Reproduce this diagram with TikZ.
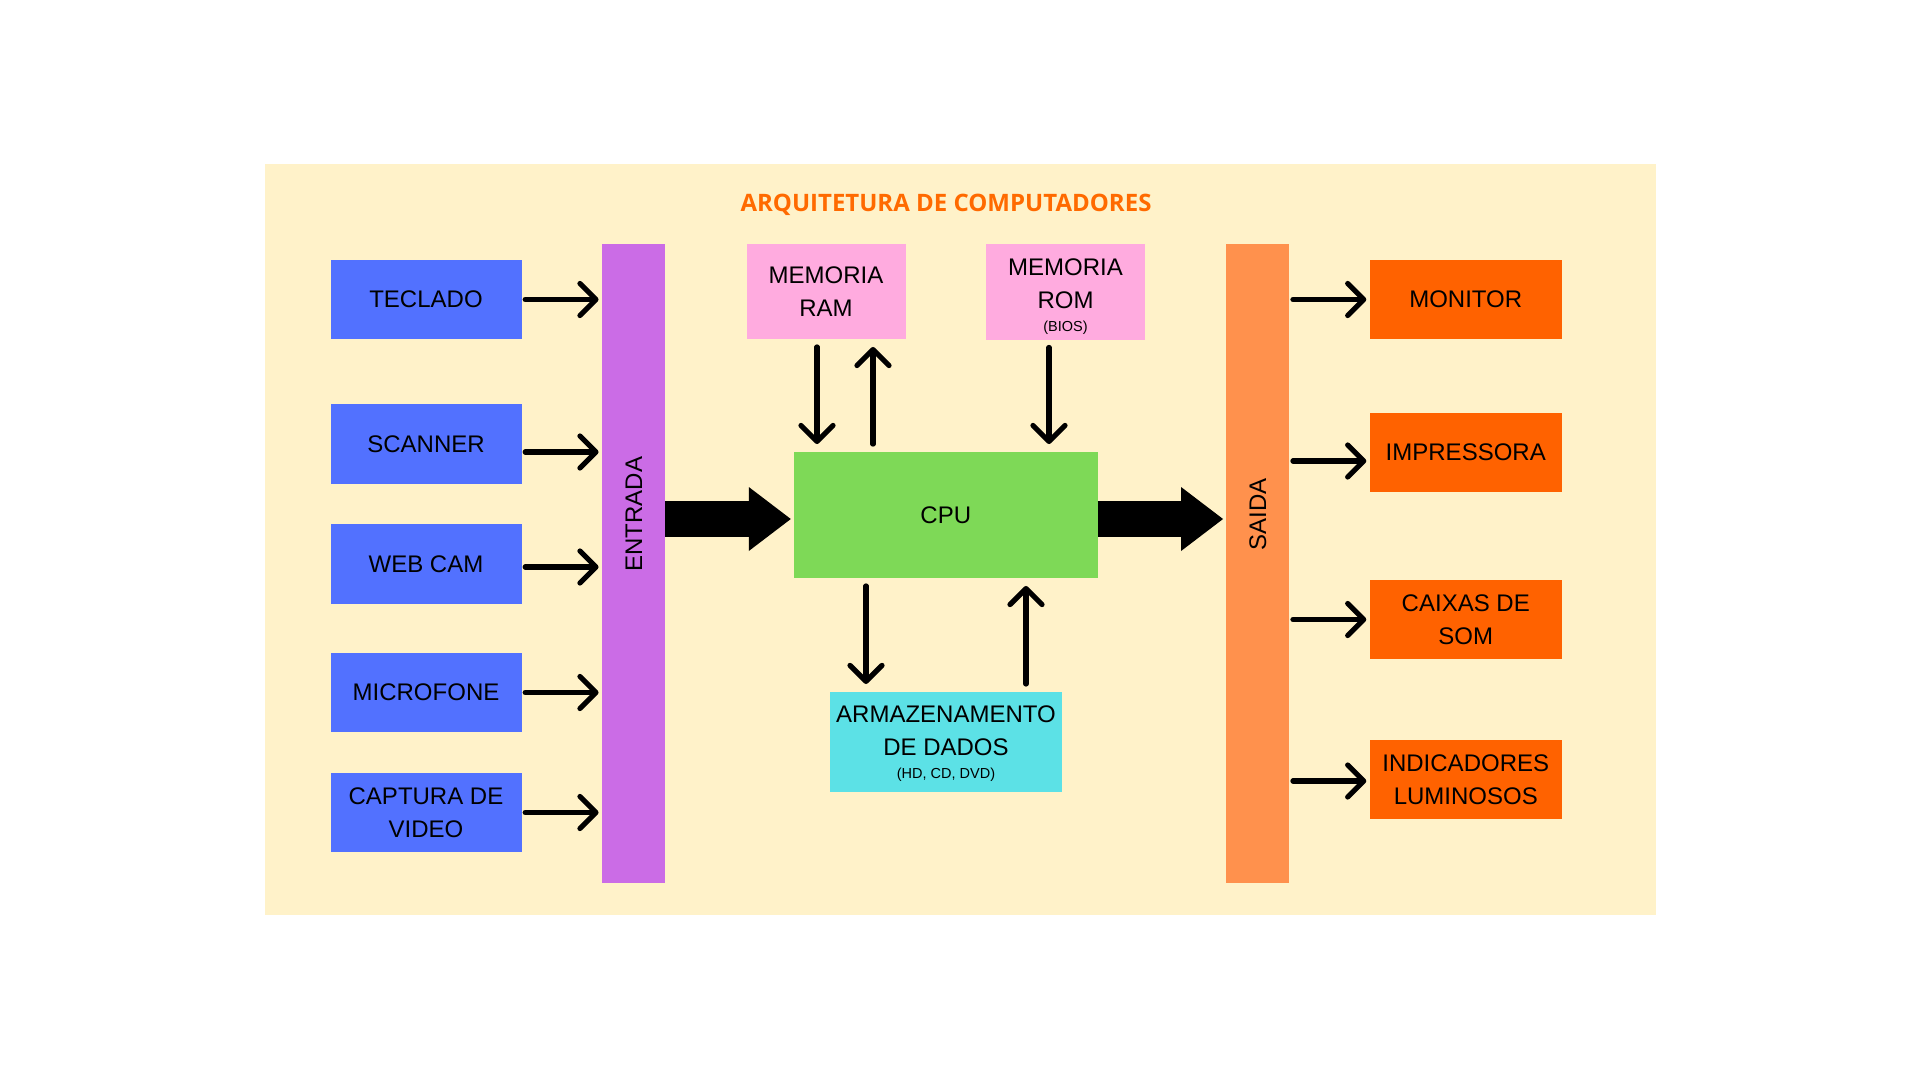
\documentclass[tikz,border=0pt]{standalone}
\usepackage{fontspec}
\setmainfont{Liberation Sans}
\newfontfamily\titlefont{Open Sans}
\usepackage{tikz}
\usetikzlibrary{arrows.meta, positioning, calc}
\definecolor{panel}{HTML}{FFF2C9}
\definecolor{inblue}{HTML}{5271FF}
\definecolor{barpurple}{HTML}{CB6CE6}
\definecolor{barorange}{HTML}{FF914D}
\definecolor{outorange}{HTML}{FF6200}
\definecolor{titleorange}{HTML}{FF6A00}
\definecolor{mempink}{HTML}{FFABDF}
\definecolor{cpugreen}{HTML}{7ED957}
\definecolor{storecyan}{HTML}{5CE1E6}
\tikzset{
    inbox/.style={rectangle, fill=inblue, minimum width=191pt, minimum height=79.5pt, inner sep=0pt, align=center},
    outbox/.style={rectangle, fill=outorange, minimum width=191.5pt, minimum height=79pt, inner sep=0pt, align=center},
    bar/.style={rectangle, minimum width=63pt, minimum height=639pt, inner sep=0pt},
    membox/.style={rectangle, fill=mempink, minimum width=159pt, minimum height=95.5pt, inner sep=0pt, align=center},
    arrow/.style={-{Straight Barb[length=16pt, width=32pt, round]}, line width=5.2pt, line cap=round, shorten <=3.5pt, shorten >=3.5pt},
    varrow/.style={arrow, shorten <=7.5pt, shorten >=7.5pt},
    bigarrow/.style={-{Triangle[length=42pt, width=64pt, line width=0pt]}, line width=36pt, shorten >=3pt}
}
\newcommand{\smalltxt}[1]{{\fontsize{14.5}{17}\selectfont #1}}

\begin{document}
\begin{tikzpicture}[x=1pt, y=-1pt, font=\fontsize{24}{33}\selectfont]
    \useasboundingbox (0,0) rectangle (1920,1080);
    \fill[panel] (264.5,164) rectangle (1655.5,915);
    \node[text=titleorange, font=\titlefont\bfseries\fontsize{24}{28}\selectfont] (title) at (946,205) {ARQUITETURA DE COMPUTADORES};

    % Entrada
    \node[inbox] (i1) at (426,299.5) {TECLADO};
    \node[inbox] (i2) at (426,444) {SCANNER};
    \node[inbox] (i3) at (426,564) {WEB CAM};
    \node[inbox] (i4) at (426,692.5) {MICROFONE};
    \node[inbox] (i5) at (426,812.5) {CAPTURA DE\\VIDEO};
    \node[bar, fill=barpurple] (entrada) at (633.75,563.5) {};
    \node[rotate=90] (entradalbl) at (633.75,514) {ENTRADA};

    % Centro
    \node[membox] (ram) at (826,291.5) {MEMORIA\\RAM};
    \node[membox] (rom) at (1065.5,292) {};
    \node[align=center] (romtxt) at (1065.5,297) {MEMORIA\\ROM\\[-10pt]\smalltxt{(BIOS)}};
    \node[rectangle, fill=cpugreen, minimum width=303.5pt, minimum height=126.5pt] (cpu) at (945.75,515) {CPU};
    \node[rectangle, fill=storecyan, minimum width=231.7pt, minimum height=100pt, inner sep=0pt] (hd) at (946,741.7) {};
    \node[align=center] (hdtxt) at (946,744) {ARMAZENAMENTO\\DE DADOS\\[-10pt]\smalltxt{(HD, CD, DVD)}};

    % Saida
    \node[bar, fill=barorange] (saida) at (1257.75,563.5) {};
    \node[rotate=90] (saidalbl) at (1257.75,514) {SAIDA};
    \node[outbox] (o1) at (1465.75,299.5) {MONITOR};
    \node[outbox] (o2) at (1465.75,452) {IMPRESSORA};
    \node[outbox] (o3) at (1465.75,619.5) {CAIXAS DE\\SOM};
    \node[outbox] (o4) at (1465.75,779.5) {INDICADORES\\LUMINOSOS};

    % Conexoes
    \foreach \i/\d in {i1/0,i2/8,i3/3,i4/0,i5/0} \draw[arrow] ([yshift=-\d pt]\i.east) -- ([yshift=-\d pt]\i.east -| entrada.west);
    \foreach \o/\d in {o1/0,o2/9,o3/0,o4/1.5} \draw[arrow] ([yshift=-\d pt]saida.east |- \o.west) -- ([yshift=-\d pt]\o.west);
    \draw[bigarrow] ($(entrada.east |- cpu.west)+(0,4)$) -- ($(cpu.west)+(0,4)$);
    \draw[bigarrow] ($(cpu.east)+(0,4)$) -- ($(saida.west |- cpu.east)+(0,4)$);
    \draw[varrow] ([xshift=-9pt]ram.south) -- ([xshift=-9pt]ram.south |- cpu.north);
    \draw[varrow] ([xshift=47pt]ram.south |- cpu.north) -- ([xshift=47pt]ram.south);
    \draw[varrow] ([xshift=-16.5pt]rom.south) -- ([xshift=-16.5pt]rom.south |- cpu.north);
    \draw[varrow] ([xshift=-80pt]hd.north |- cpu.south) -- ([xshift=-80pt]hd.north);
    \draw[varrow] ([xshift=80pt]hd.north) -- ([xshift=80pt]hd.north |- cpu.south);
\end{tikzpicture}
\end{document}
